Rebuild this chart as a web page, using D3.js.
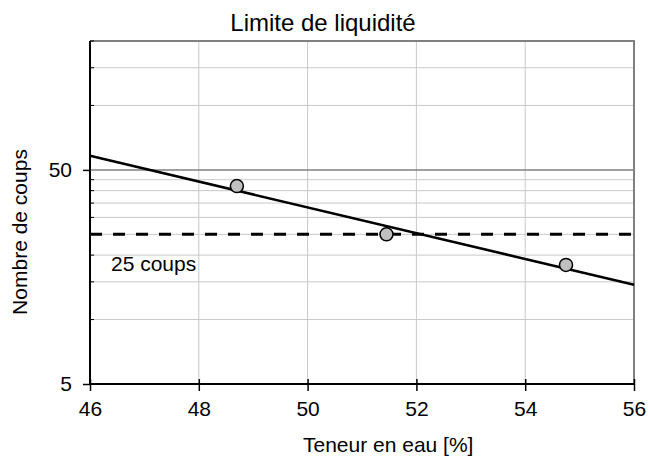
<!DOCTYPE html>
<html>
<head>
<meta charset="utf-8">
<script src="https://d3js.org/d3.v7.min.js"></script>
<style>
  body { margin: 0; background: #fff; }
  text { font-family: "Liberation Sans", Arial, sans-serif; fill: #000; }
</style>
</head>
<body>
<svg id="chart" width="648" height="456"></svg>
<script>
// data
var waterContent = [48.7, 51.45, 54.75]   // %
var blows = [42, 25, 18]                  // nombre de coups
var refBlows = 25
var xTicks = [46, 48, 50, 52, 54, 56]
var yMajor = [5, 50]
var yMinor = [10, 15, 20, 25, 30, 35, 40, 45, 100, 150, 200]

var svg = d3.select("#chart")

var x = d3.scaleLinear().domain([46, 56]).range([90, 634])
var y = d3.scaleLog().domain([5, 200]).range([384, 41])

// grid
svg.selectAll(".vgrid")
  .data(xTicks.slice(1, -1))
  .enter()
  .append("line")
  .attr("x1", d => x(d)).attr("x2", d => x(d))
  .attr("y1", y(200)).attr("y2", y(5))
  .style("stroke", "#c8c8c8").style("stroke-width", 1)

svg.selectAll(".hgrid")
  .data(yMinor)
  .enter()
  .append("line")
  .attr("x1", x(46)).attr("x2", x(56))
  .attr("y1", d => y(d)).attr("y2", d => y(d))
  .style("stroke", "#c8c8c8").style("stroke-width", 1)

svg.append("line")
  .attr("x1", x(46)).attr("x2", x(56))
  .attr("y1", y(50)).attr("y2", y(50))
  .style("stroke", "#808080").style("stroke-width", 1.5)

// top and right border
svg.append("path")
  .attr("d", "M" + x(46) + "," + y(200) + "H" + x(56) + "V" + y(5))
  .style("fill", "none").style("stroke", "#808080").style("stroke-width", 2)

// minor ticks on the y axis
svg.selectAll(".ytick")
  .data(yMinor)
  .enter()
  .append("line")
  .attr("x1", x(46)).attr("x2", x(46) + 4)
  .attr("y1", d => y(d)).attr("y2", d => y(d))
  .style("stroke", "#000").style("stroke-width", 1)

// y axis (major ticks + labels)
var yAxis = d3.axisLeft(y).tickValues(yMajor).tickSize(7).tickPadding(11).tickFormat(d3.format("d"))
var gy = svg.append("g").attr("transform", "translate(" + x(46) + ",0)").call(yAxis)
gy.select(".domain").remove()
gy.selectAll("line").style("stroke", "#000").style("stroke-width", 1.5)
gy.selectAll("text").style("font-size", "21px").style("font-family", "Liberation Sans, Arial").attr("fill", "#000")

// x axis
var xAxis = d3.axisBottom(x).tickValues(xTicks).tickSize(7).tickPadding(10).tickFormat(d3.format("d"))
var gx = svg.append("g").attr("transform", "translate(0," + y(5) + ")").call(xAxis)
gx.select(".domain").remove()
gx.selectAll("line").attr("y1", -5).style("stroke", "#000").style("stroke-width", 1.5)
gx.selectAll("text").style("font-size", "21px").style("font-family", "Liberation Sans, Arial").attr("fill", "#000")

svg.append("line")
  .attr("x1", x(46)).attr("x2", x(56))
  .attr("y1", y(5)).attr("y2", y(5))
  .style("stroke", "#000").style("stroke-width", 2)
svg.append("line")
  .attr("x1", x(46)).attr("x2", x(46))
  .attr("y1", y(200)).attr("y2", y(5))
  .style("stroke", "#000").style("stroke-width", 2)

// 25 coups reference line
svg.append("line")
  .attr("x1", x(46)).attr("x2", x(56))
  .attr("y1", y(refBlows)).attr("y2", y(refBlows))
  .style("stroke", "#000").style("stroke-width", 3).style("stroke-dasharray", "12,11")

svg.append("text").attr("x", 111).attr("y", 271).text(refBlows + " coups").style("font-size", "21px")

// least squares fit of log(N) against w
var lx = waterContent, ly = blows.map(d => Math.log10(d))
var mx = d3.mean(lx), my = d3.mean(ly)
var slope = d3.sum(lx, (d, i) => (d - mx) * (ly[i] - my)) / d3.sum(lx, d => (d - mx) * (d - mx))
var fit = x.domain().map(w => [w, Math.pow(10, my + slope * (w - mx))])

svg.append("path")
  .datum(fit)
  .attr("d", d3.line().x(d => x(d[0])).y(d => y(d[1])))
  .style("fill", "none").style("stroke", "#000").style("stroke-width", 2.5)

svg.selectAll(".pt")
  .data(waterContent)
  .enter()
  .append("circle")
  .attr("cx", d => x(d))
  .attr("cy", (d, i) => y(blows[i]))
  .attr("r", 6.5)
  .style("fill", "#c0c0c0").style("stroke", "#000").style("stroke-width", 1.5)

// titles
svg.append("text").attr("x", 323).attr("y", 31).attr("text-anchor", "middle")
  .text("Limite de liquidité").style("font-size", "24px")
svg.append("text").attr("x", 303).attr("y", 452).text("Teneur en eau [%]").style("font-size", "21px")
svg.append("text").attr("transform", "translate(27,232) rotate(-90)").attr("text-anchor", "middle")
  .text("Nombre de coups").style("font-size", "21px")
</script>
</body>
</html>
